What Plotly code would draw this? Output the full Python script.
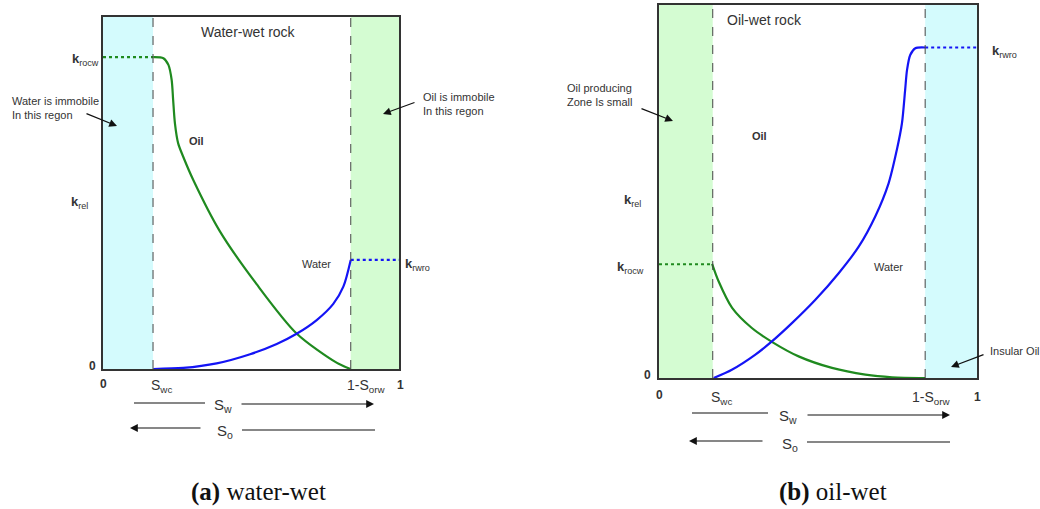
import plotly.graph_objects as go

# ---------------- data ----------------
SWC = 0.169
ONE_MINUS_SORW = 0.837

# (a) water-wet
KROCW_A = 0.886
KRWRO_A = 0.310
oil_a_sw = [0.170, 0.204, 0.221, 0.232, 0.237, 0.243, 0.254, 0.271, 0.305, 0.395, 0.519,
            0.654, 0.789, 0.836]
oil_a_kr = [0.886, 0.883, 0.864, 0.821, 0.764, 0.698, 0.641, 0.603, 0.537, 0.391, 0.241,
            0.101, 0.018, 0.000]
water_a_sw = [0.170, 0.271, 0.384, 0.497, 0.587, 0.654, 0.722, 0.778, 0.812, 0.837]
water_a_kr = [0.000, 0.003, 0.016, 0.042, 0.071, 0.100, 0.139, 0.185, 0.234, 0.310]

# (b) oil-wet
KROCW_B = 0.305
KRWRO_B = 0.886
oil_b_sw = [0.167, 0.187, 0.230, 0.292, 0.355, 0.439, 0.544, 0.649, 0.733, 0.837]
oil_b_kr = [0.306, 0.260, 0.188, 0.134, 0.097, 0.058, 0.027, 0.009, 0.002, 0.000]
water_b_sw = [0.172, 0.229, 0.302, 0.355, 0.418, 0.491, 0.565, 0.628, 0.680, 0.722, 0.748, 0.764,
              0.774, 0.780, 0.790, 0.806, 0.837]
water_b_kr = [0.000, 0.022, 0.062, 0.098, 0.147, 0.209, 0.281, 0.352, 0.433, 0.522, 0.612, 0.683,
              0.772, 0.826, 0.866, 0.884, 0.886]

# ---------------- style ----------------
W, H = 1040, 509
GREEN = "#1f8a1f"
BLUE = "#1414f5"
CYAN_FILL = "#d4fbfd"
GREEN_FILL = "#d4fcd2"
TXT = "#333333"
SANS = "Liberation Sans Narrow, Arial Narrow, Liberation Sans, Arial, sans-serif"
SERIF = "Liberation Serif, Times New Roman, DejaVu Serif, serif"


def px(x):
    return x / W


def py(y):
    return 1 - y / H


fig = go.Figure()

panels = [
    dict(xa="x", ya="y", dom_x=[px(103), px(399)], dom_y=[py(369), py(17)],
         oil=(oil_a_sw, oil_a_kr), water=(water_a_sw, water_a_kr),
         krocw=KROCW_A, krwro=KRWRO_A, left_fill=CYAN_FILL, right_fill=GREEN_FILL),
    dict(xa="x2", ya="y2", dom_x=[px(659), px(977)], dom_y=[py(378), py(5)],
         oil=(oil_b_sw, oil_b_kr), water=(water_b_sw, water_b_kr),
         krocw=KROCW_B, krwro=KRWRO_B, left_fill=GREEN_FILL, right_fill=CYAN_FILL),
]

shapes = []
for p in panels:
    xa, ya = p["xa"], p["ya"]
    fig.add_trace(go.Scatter(x=p["oil"][0], y=p["oil"][1], mode="lines", xaxis=xa, yaxis=ya,
                             line=dict(color=GREEN, width=2.2, shape="spline", smoothing=0.8),
                             showlegend=False, hoverinfo="skip"))
    fig.add_trace(go.Scatter(x=p["water"][0], y=p["water"][1], mode="lines", xaxis=xa, yaxis=ya,
                             line=dict(color=BLUE, width=2.2, shape="spline", smoothing=0.8),
                             showlegend=False, hoverinfo="skip"))
    # dotted end-point extensions
    fig.add_trace(go.Scatter(x=[0, SWC], y=[p["krocw"], p["krocw"]], mode="lines", xaxis=xa, yaxis=ya,
                             line=dict(color=GREEN, width=2.2, dash="dot"),
                             showlegend=False, hoverinfo="skip"))
    fig.add_trace(go.Scatter(x=[ONE_MINUS_SORW, 1], y=[p["krwro"], p["krwro"]], mode="lines", xaxis=xa, yaxis=ya,
                             line=dict(color=BLUE, width=2.2, dash="dot"),
                             showlegend=False, hoverinfo="skip"))
    ydom = ya + " domain"
    shapes.append(dict(type="rect", xref=xa, yref=ydom, x0=0, x1=SWC, y0=0, y1=1,
                       fillcolor=p["left_fill"], line=dict(width=0), layer="below"))
    shapes.append(dict(type="rect", xref=xa, yref=ydom, x0=ONE_MINUS_SORW, x1=1, y0=0, y1=1,
                       fillcolor=p["right_fill"], line=dict(width=0), layer="below"))
    for xv in (SWC, ONE_MINUS_SORW):
        shapes.append(dict(type="line", xref=xa, yref=ydom, x0=xv, x1=xv, y0=0, y1=1,
                           line=dict(color="#444444", width=1, dash="dash"), layer="above"))

axis_common = dict(range=[0, 1], showgrid=False, zeroline=False, showticklabels=False,
                   ticks="", showline=True, mirror=True, linecolor="#333333", linewidth=1.5,
                   fixedrange=True)
fig.update_layout(
    xaxis=dict(domain=panels[0]["dom_x"], anchor="y", **axis_common),
    yaxis=dict(domain=panels[0]["dom_y"], anchor="x", **axis_common),
    xaxis2=dict(domain=panels[1]["dom_x"], anchor="y2", **axis_common),
    yaxis2=dict(domain=panels[1]["dom_y"], anchor="x2", **axis_common),
)

ann = []


def text(x, y, s, size=11, bold=False, xanchor="center", font=SANS, color=TXT, align="left"):
    if bold:
        s = "<b>" + s + "</b>"
    ann.append(dict(x=px(x), y=py(y), xref="paper", yref="paper", text=s, showarrow=False,
                    xanchor=xanchor, yanchor="middle", align=align,
                    font=dict(family=font, size=size, color=color)))


def arrow(tail, head):
    ann.append(dict(x=px(head[0]), y=py(head[1]), xref="paper", yref="paper", text="",
                    showarrow=True, arrowhead=2, arrowsize=1.3, arrowwidth=1.2, arrowcolor="#111111",
                    ax=tail[0] - head[0], ay=tail[1] - head[1], standoff=0, startstandoff=0))


def hline(x0, x1, y):
    shapes.append(dict(type="line", xref="paper", yref="paper", x0=px(x0), x1=px(x1),
                       y0=py(y), y1=py(y), line=dict(color="#111111", width=1.2)))


def ktext(x, y, sub, xanchor):
    ann.append(dict(x=px(x), y=py(y), xref="paper", yref="paper",
                    text="<b>k</b><sub>" + sub + "</sub>", showarrow=False,
                    xanchor=xanchor, yanchor="middle",
                    font=dict(family=SANS, size=13, color=TXT)))


# ---- panel (a) ----
text(248, 32, "Water-wet rock", size=14)
ktext(101, 59, "rocw", "right")
text(10, 108, "Water is immobile<br>In this regon", size=11, xanchor="left")
arrow((85, 113), (117, 126))
text(421, 104, "Oil is immobile<br>In this regon", size=11, xanchor="left")
arrow((416, 102), (383, 114))
text(196, 141, "Oil", size=11, bold=True)
ktext(79, 202, "rel", "center")
text(316, 264, "Water", size=11)
ktext(403, 264, "rwro", "left")
text(92, 366, "0", size=12, bold=True)
text(103, 384, "0", size=12, bold=True)
text(161, 386, "S<sub>wc</sub>", size=14)
text(366, 386, "1-S<sub>orw</sub>", size=14)
text(400, 385, "1", size=12, bold=True)
hline(134, 205, 403)
text(223, 405, "S<sub>w</sub>", size=15)
arrow((240, 404), (374, 404))
arrow((202, 428), (130, 428))
text(225, 431, "S<sub>o</sub>", size=15)
hline(242, 375, 430)
text(258, 492, "<b>(a)</b> water-wet", size=25, font=SERIF, color="#111111")

# ---- panel (b) ----
text(764, 20, "Oil-wet rock", size=14)
text(565, 95, "Oil producing<br>Zone Is small", size=11, xanchor="left")
arrow((640, 108), (673, 121))
text(759, 136, "Oil", size=11, bold=True)
ktext(632, 200, "rel", "center")
text(888, 267, "Water", size=11)
ktext(646, 267, "rocw", "right")
ktext(990, 52, "rwro", "left")
text(988, 351, "Insular Oil", size=11, xanchor="left")
arrow((985, 354), (951, 367))
text(647, 375, "0", size=12, bold=True)
text(659, 395, "0", size=12, bold=True)
text(721, 398, "S<sub>wc</sub>", size=14)
text(931, 398, "1-S<sub>orw</sub>", size=14)
text(977, 397, "1", size=12, bold=True)
hline(692, 768, 413)
text(788, 416, "S<sub>w</sub>", size=15)
arrow((806, 415), (950, 415))
arrow((764, 441), (689, 441))
text(790, 444, "S<sub>o</sub>", size=15)
hline(807, 950, 442)
text(833, 492, "<b>(b)</b> oil-wet", size=25, font=SERIF, color="#111111")

fig.update_layout(
    width=W, height=H, margin=dict(l=0, r=0, t=0, b=0),
    paper_bgcolor="white", plot_bgcolor="white",
    shapes=shapes, annotations=ann, showlegend=False,
)

fig.write_html("out.html", config={"displayModeBar": False})
